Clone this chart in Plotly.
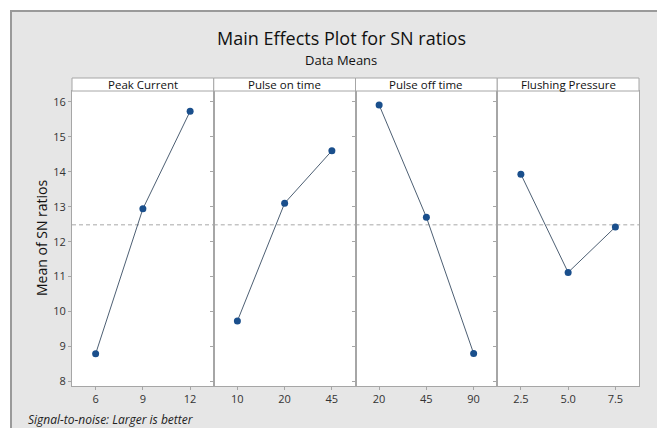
import plotly.graph_objects as go
from plotly.subplots import make_subplots
import numpy as np

factors = ["Peak Current", "Pulse on time", "Pulse off time", "Flushing Pressure"]
levels = [["6", "9", "12"], ["10", "20", "45"], ["20", "45", "90"], ["2.5", "5.0", "7.5"]]
peak_current = [8.79, 12.94, 15.73]
pulse_on = [9.73, 13.10, 14.60]
pulse_off = [15.91, 12.70, 8.80]
flushing = [13.93, 11.12, 12.42]
series = [peak_current, pulse_on, pulse_off, flushing]
grand_mean = float(np.mean(peak_current + pulse_on + pulse_off + flushing))
y_ticks = [8, 9, 10, 11, 12, 13, 14, 15, 16]

W, H = 657, 428
ML, MR, MT, MB = 72, 18, 91, 42
PW, PH = W - ML - MR, H - MT - MB

def px_x(p):
    return (p - ML) / PW

def px_y(p):
    return (H - MB - p) / PH

fig = make_subplots(rows=1, cols=4, shared_yaxes=True, horizontal_spacing=0)
font = "Open Sans, Noto Sans, sans-serif"

def note(x, y, text, size, color="#111111", xanchor="center", angle=0):
    fig.add_annotation(x=px_x(x), y=px_y(y), xref="paper", yref="paper",
                       xanchor=xanchor, yanchor="middle", text=text, showarrow=False,
                       textangle=angle, font=dict(size=size, color=color, family=font))

for i, (lv, vals) in enumerate(zip(levels, series)):
    pos = list(range(1, len(lv) + 1))
    fig.add_trace(go.Scatter(
        x=pos, y=vals, mode="lines+markers",
        line=dict(color="#4d5f73", width=1),
        marker=dict(color="#1a4f8c", size=7),
        showlegend=False, hoverinfo="y"), row=1, col=i + 1)
    fig.update_xaxes(row=1, col=i + 1, range=[0.5, 3.5], tickvals=pos, ticktext=lv,
                     showgrid=False, zeroline=False, showline=True, mirror=True,
                     linecolor="#a6a6a6", linewidth=1, ticks="outside", ticklen=3,
                     tickcolor="#a6a6a6", tickfont=dict(size=11, color="#333333", family=font))
    fig.add_shape(type="line", xref=f"x{'' if i == 0 else i + 1} domain", x0=0, x1=1,
                  yref="y", y0=grand_mean, y1=grand_mean,
                  line=dict(color="#a8a8a8", width=1, dash="4px,3px"), layer="below")
    d0, d1 = i / 4, (i + 1) / 4
    fig.add_shape(type="rect", xref="paper", yref="paper", x0=d0, x1=d1,
                  y0=1, y1=px_y(MT - 13), fillcolor="white",
                  line=dict(color="#a6a6a6", width=1))
    fig.add_annotation(x=(d0 + d1) / 2, y=px_y(84.5), xref="paper", yref="paper",
                       xanchor="center", yanchor="middle",
                       text=factors[i], showarrow=False,
                       font=dict(size=11.5, color="#111111", family=font))

fig.update_yaxes(range=[7.87, 16.31], tickvals=y_ticks, showgrid=False, zeroline=False,
                 showline=True, mirror=True, linecolor="#a6a6a6", linewidth=1,
                 ticks="outside", ticklen=3, tickcolor="#a6a6a6",
                 tickfont=dict(size=11, color="#333333", family=font))

# outer frame
fig.add_shape(type="rect", xref="paper", yref="paper", x0=px_x(0), x1=px_x(W),
              y0=px_y(10), y1=px_y(0), fillcolor="white", line=dict(width=0), layer="below")
fig.add_shape(type="rect", xref="paper", yref="paper", x0=px_x(0), x1=px_x(10),
              y0=px_y(H), y1=px_y(0), fillcolor="white", line=dict(width=0), layer="below")
fig.add_shape(type="line", xref="paper", yref="paper", x0=px_x(11), x1=px_x(11),
              y0=px_y(H), y1=px_y(10), line=dict(color="#9a9a9a", width=2))
fig.add_shape(type="line", xref="paper", yref="paper", x0=px_x(10), x1=px_x(W),
              y0=px_y(11), y1=px_y(11), line=dict(color="#9a9a9a", width=2))

note(341, 38, "Main Effects Plot for SN ratios", 18)
note(341, 59.5, "Data Means", 13)
note(41, 238, "Mean of SN ratios", 14, angle=-90)
note(26, 419, "<i>Signal-to-noise: Larger is better</i>", 12, color="#222222", xanchor="left")

fig.update_layout(width=W, height=H, margin=dict(l=ML, r=MR, t=MT, b=MB),
                  paper_bgcolor="#e6e6e6", plot_bgcolor="white", showlegend=False)
fig.write_html("out.html", config={"displayModeBar": False},
               post_script="document.body.style.margin='0';")
